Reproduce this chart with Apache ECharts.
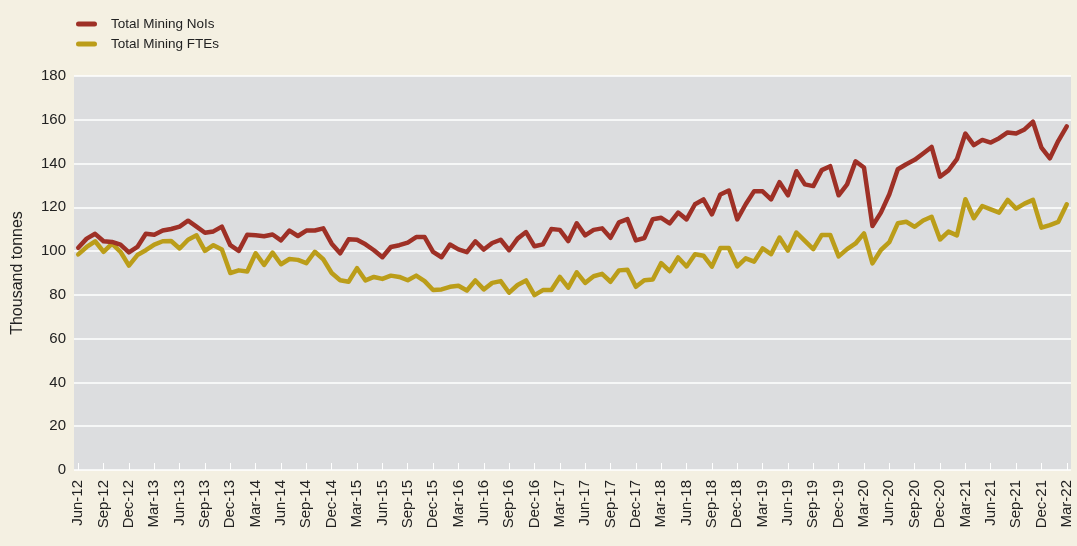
<!DOCTYPE html>
<html>
<head>
<meta charset="utf-8">
<script src="https://cdn.jsdelivr.net/npm/echarts@6/dist/echarts.min.js"></script>
<style>
html,body{margin:0;padding:0;background:#F4F0E2;}
#chart{width:1077px;height:546px;}
</style>
</head>
<body>
<div id="chart"></div>
<script>
const months = [
'Jun-12','Jul-12','Aug-12','Sep-12','Oct-12','Nov-12','Dec-12',
'Jan-13','Feb-13','Mar-13','Apr-13','May-13','Jun-13','Jul-13','Aug-13','Sep-13','Oct-13','Nov-13','Dec-13',
'Jan-14','Feb-14','Mar-14','Apr-14','May-14','Jun-14','Jul-14','Aug-14','Sep-14','Oct-14','Nov-14','Dec-14',
'Jan-15','Feb-15','Mar-15','Apr-15','May-15','Jun-15','Jul-15','Aug-15','Sep-15','Oct-15','Nov-15','Dec-15',
'Jan-16','Feb-16','Mar-16','Apr-16','May-16','Jun-16','Jul-16','Aug-16','Sep-16','Oct-16','Nov-16','Dec-16',
'Jan-17','Feb-17','Mar-17','Apr-17','May-17','Jun-17','Jul-17','Aug-17','Sep-17','Oct-17','Nov-17','Dec-17',
'Jan-18','Feb-18','Mar-18','Apr-18','May-18','Jun-18','Jul-18','Aug-18','Sep-18','Oct-18','Nov-18','Dec-18',
'Jan-19','Feb-19','Mar-19','Apr-19','May-19','Jun-19','Jul-19','Aug-19','Sep-19','Oct-19','Nov-19','Dec-19',
'Jan-20','Feb-20','Mar-20','Apr-20','May-20','Jun-20','Jul-20','Aug-20','Sep-20','Oct-20','Nov-20','Dec-20',
'Jan-21','Feb-21','Mar-21','Apr-21','May-21','Jun-21','Jul-21','Aug-21','Sep-21','Oct-21','Nov-21','Dec-21',
'Jan-22','Feb-22','Mar-22'
];

const miningNoIs = [
101.5,105.7,107.9,104.5,104.2,103,99.4,
101.9,107.9,107.5,109.4,110.1,111.2,113.9,111.2,108.4,109,111.2,102.7,
100.1,107.5,107.2,106.8,107.6,104.9,109.4,106.9,109.4,109.4,110.4,103.4,
99,105.4,105.2,103.1,100.4,97.2,101.9,102.7,103.9,106.4,106.4,99.7,
97.2,103,100.8,99.5,104.5,100.7,103.7,105.2,100.4,105.7,108.7,102.2,
103.1,110.1,109.7,104.6,112.7,107.2,109.7,110.4,106.1,113.1,114.6,104.9,
106,114.6,115.2,112.7,117.6,114.5,121.4,123.6,116.8,125.9,127.7,114.5,
121.4,127.4,127.3,123.6,131.5,125.5,136.5,130.5,129.7,137,138.8,125.5,
130.5,141,138.2,111.5,117.6,126,137.4,139.7,141.7,144.6,147.6,134,
136.9,142,153.7,148.4,150.8,149.6,151.6,154.2,153.7,155.6,159.1,147.3,
142.4,150.4,157
];

const miningFTEs = [
98.5,101.9,104.5,99.7,103.4,99.7,93.4,
98.2,100.4,103,104.5,104.6,101.2,105.2,107.2,100.1,102.7,100.7,90,
91.2,90.7,99,93.7,99.3,94,96.4,96,94.5,99.7,96.3,90,
86.7,86,92.2,86.6,88.2,87.3,88.8,88.2,86.7,88.8,86.3,82.2,
82.5,83.7,84.2,82,86.6,82.5,85.5,86.3,81,84.5,86.6,79.9,
82.2,82.2,88.2,83.3,90.3,85.5,88.5,89.6,86,91.2,91.5,83.7,
86.7,87,94.5,90.8,97.1,93,98.6,97.9,92.9,101.4,101.4,93,
96.7,95.2,101.2,98.6,106.2,100.2,108.5,104.7,100.9,107.4,107.4,97.6,
100.9,103.5,108.1,94.4,100.5,104.1,112.7,113.4,111.1,114,115.7,105.3,
108.9,107.2,123.7,115,120.6,119.1,117.6,123.4,119.4,121.7,123.4,110.7,
111.9,113.4,121.4
];

const seriesNames = ['Total Mining NoIs', 'Total Mining FTEs'];
const yAxisTitle = 'Thousand tonnes';

const chart = echarts.init(document.getElementById('chart'), null, {renderer: 'canvas'});
const font = "'Liberation Sans', Arial, sans-serif";
chart.setOption({
  backgroundColor: '#F4F0E2',
  animation: false,
  textStyle: {fontFamily: font},
  legend: {
    orient: 'vertical',
    left: 71,
    top: 12,
    itemWidth: 21,
    itemHeight: 5,
    itemGap: 6,
    icon: 'path://M2.5,0 L18.5,0 A2.5,2.5 0 0 1 18.5,5 L2.5,5 A2.5,2.5 0 0 1 2.5,0 Z',
    textStyle: {fontSize: 13.5, color: '#222', fontFamily: font, padding: [0, 0, 0, 9]},
    data: seriesNames
  },
  grid: {
    left: 74, right: 6, top: 76, bottom: 76,
    outerBoundsMode: 'none',
    containLabel: false,
    show: true, backgroundColor: '#DCDDDF', borderWidth: 0
  },
  xAxis: {
    type: 'category',
    data: months,
    boundaryGap: true,
    axisLine: {show: false},
    axisTick: {show: true, inside: true, alignWithLabel: true, interval: 2, length: 7, lineStyle: {color: '#FFFFFF', width: 1}},
    axisLabel: {interval: 2, rotate: 90, fontSize: 15, color: '#222', margin: 10, fontFamily: font},
    splitLine: {show: false}
  },
  yAxis: {
    type: 'value',
    min: 0, max: 180, interval: 20,
    name: yAxisTitle,
    nameLocation: 'middle',
    nameRotate: 90,
    nameGap: 48,
    nameTextStyle: {fontSize: 16, color: '#222', fontFamily: font},
    axisLine: {show: false},
    axisTick: {show: false},
    axisLabel: {fontSize: 15, color: '#222', margin: 8, fontFamily: font},
    splitLine: {show: true, lineStyle: {color: '#FFFFFF', width: 1.5}}
  },
  series: [
    {
      name: seriesNames[0], type: 'line', data: miningNoIs,
      symbol: 'none', z: 3,
      lineStyle: {color: '#9E3026', width: 4.5, join: 'round', cap: 'round'},
      itemStyle: {color: '#9E3026'}
    },
    {
      name: seriesNames[1], type: 'line', data: miningFTEs,
      symbol: 'none', z: 2,
      lineStyle: {color: '#BB9D19', width: 4.5, join: 'round', cap: 'round'},
      itemStyle: {color: '#BB9D19'}
    }
  ]
});
</script>
</body>
</html>
